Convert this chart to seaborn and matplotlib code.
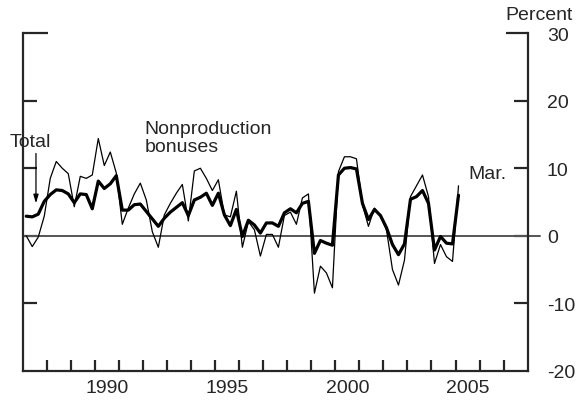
import numpy as np
import pandas as pd
import seaborn as sns
import matplotlib.pyplot as plt

# quarterly, 1987:Q1 - 2005:Q1 (12-month percent change)
quarters = pd.period_range('1987Q1', '2005Q1', freq='Q')

total = [2.9, 2.8, 3.2, 5.1, 6.1, 6.8, 6.7, 6.2, 4.9, 6.2, 6.1, 4.0,
         8.1, 7.0, 7.7, 8.9, 3.8, 3.8, 4.6, 4.7, 3.6, 2.5, 1.4, 2.6,
         3.5, 4.2, 4.9, 3.0, 5.3, 5.7, 6.3, 4.5, 6.3, 3.1, 1.5, 3.9,
         -0.1, 2.3, 1.6, 0.4, 1.9, 1.9, 1.4, 3.4, 4.0, 3.4, 4.8, 5.1,
         -2.6, -0.7, -1.1, -1.4, 9.0, 10.0, 10.1, 9.9, 4.8, 2.4, 3.9, 3.0,
         1.2, -1.3, -2.8, -1.2, 5.4, 5.8, 6.7, 4.8, -2.1, -0.1, -1.1, -1.2,
         6.0]

bonuses = [0.0, -1.6, -0.2, 2.9, 8.5, 11.0, 10.0, 9.2, 4.3, 8.8, 8.5, 9.0,
           14.4, 10.4, 12.4, 9.3, 1.7, 4.1, 6.2, 7.8, 5.3, 0.6, -1.7, 3.1,
           4.8, 6.3, 7.6, 2.2, 9.6, 10.0, 8.5, 6.7, 8.3, 3.1, 2.8, 6.6,
           -1.7, 2.1, 0.9, -3.0, 0.2, 0.2, -1.7, 3.0, 3.5, 1.7, 5.6, 6.2,
           -8.5, -4.5, -5.5, -7.7, 9.5, 11.7, 11.7, 11.4, 4.6, 1.4, 4.1, 2.9,
           0.9, -5.0, -7.3, -3.6, 5.8, 7.4, 9.0, 5.8, -4.1, -1.3, -3.1, -3.8,
           7.4]

year_labels = [1990, 1995, 2000, 2005]
y_ticks = [-20, -10, 0, 10, 20, 30]

df = pd.DataFrame({
    'date': quarters.year + (quarters.quarter - 1) / 4 + 0.125,
    'Total': total,
    'Nonproduction bonuses': bonuses,
})

sns.set_style('ticks')
plt.rcParams['font.family'] = ['Liberation Sans', 'DejaVu Sans']
plt.rcParams['axes.unicode_minus'] = False

fig = plt.figure(figsize=(5.81, 4.02), dpi=100)
ax = fig.add_axes([0.040, 0.075, 0.868, 0.840])

# zero line, runs a bit past the right axis
ax.plot([1987, 2008.5], [0, 0], color='#555555', lw=1.4, clip_on=False, zorder=1)

sns.lineplot(data=df, x='date', y='Nonproduction bonuses', color='black', lw=0.9, ax=ax)
sns.lineplot(data=df, x='date', y='Total', color='black', lw=2.3, ax=ax)

ax.set_xlim(1987, 2008)
ax.set_ylim(-20, 30)
ax.set_xlabel('')
ax.set_ylabel('')

ax.spines['top'].set_visible(False)
for s in ['left', 'right', 'bottom']:
    ax.spines[s].set_linewidth(1.6)

# year ticks at year starts, labels at mid-year
ax.set_xticks(np.arange(1988, 2008))
ax.set_xticklabels([])
ax.set_xticks([y + 0.5 for y in year_labels], labels=[str(y) for y in year_labels], minor=True)
ax.tick_params(axis='x', which='major', direction='in', length=8, width=1.6)
ax.tick_params(axis='x', which='minor', length=0, pad=6, labelsize=14)

ax.set_yticks(y_ticks)
ax.tick_params(axis='y', direction='in', length=10, width=1.6, left=True, right=True,
               labelleft=False, labelright=True, labelsize=14, pad=14)
yt = ax.yaxis.get_major_ticks()
yt[0].tick1line.set_visible(False)
yt[0].tick2line.set_visible(False)
yt[-1].tick1line.set_markersize(18)
yt[-1].tick2line.set_markersize(16)

fig.text(0.986, 0.962, 'Percent', ha='right', va='center', fontsize=14)
ax.text(1992.05, 14.6, 'Nonproduction\nbonuses', ha='left', va='center', fontsize=14,
        linespacing=1.1)
ax.text(1986.45, 12.7, 'Total', ha='left', va='bottom', fontsize=14)
ax.annotate('', xy=(1987.53, 4.4), xytext=(1987.53, 12.6),
            arrowprops=dict(arrowstyle='-|>,head_length=0.5,head_width=0.15', color='black', lw=0.9))
ax.text(2005.55, 9.2, 'Mar.', ha='left', va='center', fontsize=14)

fig.savefig('out.png', dpi=100)
